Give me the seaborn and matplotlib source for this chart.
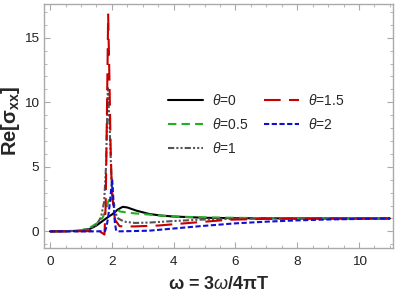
import numpy as np
import matplotlib
matplotlib.use("Agg")
import matplotlib.pyplot as plt
import seaborn as sns

# theta = 0 (black solid)
x0 = [0, 0.5, 1.0, 1.3, 1.5, 1.7, 1.9, 2.0, 2.1, 2.2, 2.35, 2.5, 2.8, 3.2, 3.6, 4, 5, 6, 8, 11]
y0 = [0, 0.01, 0.05, 0.2, 0.45, 0.8, 1.15, 1.3, 1.5, 1.7, 1.9, 1.85, 1.6, 1.35, 1.22, 1.15, 1.05, 1.02, 1.0, 1.0]

# theta = 0.5 (green dashed)
x05 = [0, 0.5, 1.0, 1.3, 1.5, 1.6, 1.7, 1.8, 1.88, 1.95, 2.02, 2.1, 2.25, 2.5, 2.8, 3.2, 4, 5, 7, 11]
y05 = [0, 0.01, 0.08, 0.3, 0.6, 0.8, 1.05, 1.6, 2.3, 2.7, 2.4, 1.9, 1.55, 1.45, 1.38, 1.3, 1.15, 1.08, 1.02, 1.0]

# theta = 1 (grey dash-dot-dot)
x1 = [0, 0.5, 1.0, 1.3, 1.5, 1.65, 1.75, 1.81, 1.87, 1.93, 1.98, 2.03, 2.1, 2.2, 2.4, 2.75, 3.2, 4, 5, 6, 8, 11]
y1 = [0, 0.01, 0.05, 0.2, 0.5, 1.1, 2.3, 5.0, 11.1, 8.0, 4.5, 2.5, 1.5, 1.0, 0.75, 0.65, 0.68, 0.8, 0.92, 0.97, 1.0, 1.0]

# theta = 1.5 (red long dash)
x15 = [0, 0.5, 1.0, 1.4, 1.6, 1.7, 1.76, 1.8, 1.84, 1.88, 1.92, 1.96, 2.0, 2.1, 2.25, 2.7, 3.5, 4.5, 5.8, 7, 9, 11]
y15 = [0, 0, 0.01, 0.02, 0.0, -0.15, -0.25, 2.0, 9.0, 16.8, 12.0, 6.5, 3.0, 0.9, 0.4, 0.38, 0.45, 0.65, 0.9, 0.97, 1.0, 1.0]

# theta = 2 (blue short dash)
x2 = [0, 0.5, 1.0, 1.5, 1.78, 1.83, 1.88, 1.94, 2.01, 2.06, 2.1, 2.14, 2.25, 3.2, 4, 4.85, 6, 7, 8, 9, 11]
y2 = [0, 0, 0, 0, 0.02, 0.4, 1.1, 2.3, 4.05, 2.0, 0.6, 0.05, 0.0, 0.05, 0.22, 0.4, 0.62, 0.75, 0.85, 0.92, 1.0]

series = [
    (x0, y0, "$\\theta$=0", "black", "-"),
    (x05, y05, "$\\theta$=0.5", "#22b022", (0, (4, 2.5))),
    (x1, y1, "$\\theta$=1", "#555555", (0, (3, 1, 1, 1, 1, 1))),
    (x15, y15, "$\\theta$=1.5", "#c80000", (0, (8, 4))),
    (x2, y2, "$\\theta$=2", "#1010d0", (0, (2.5, 1.2))),
]

sns.set_style("ticks")
plt.rcParams["font.family"] = ["Liberation Sans", "DejaVu Sans"]
plt.rcParams["mathtext.fontset"] = "custom"
plt.rcParams["mathtext.it"] = "Liberation Sans:italic"
plt.rcParams["mathtext.rm"] = "Liberation Sans"
plt.rcParams["mathtext.bf"] = "Liberation Sans:bold"

fig = plt.figure(figsize=(3.99, 2.94), dpi=100)
ax = fig.add_axes([0.110, 0.156, 0.875, 0.830])

for xs, ys, lab, col, ls in series:
    sns.lineplot(x=xs, y=ys, ax=ax, color=col, linestyle=ls, linewidth=1.5, label=lab, sort=False)

ax.set_xlim(-0.2, 11.1)
ax.set_ylim(-1.3, 17.6)
ax.set_xticks([0, 2, 4, 6, 8, 10])
ax.set_yticks([0, 5, 10, 15])
ax.xaxis.set_minor_locator(matplotlib.ticker.MultipleLocator(0.5))
ax.yaxis.set_minor_locator(matplotlib.ticker.MultipleLocator(1))
ax.tick_params(which="both", direction="in", top=True, right=True, color="#aaaaaa",
               labelsize=9.7, labelcolor="#222222")
ax.tick_params(which="major", length=4, width=0.8)
ax.tick_params(which="minor", length=2, width=0.6)
ax.tick_params(axis="x", pad=6)
for sp in ax.spines.values():
    sp.set_color("#aaaaaa")
    sp.set_linewidth(1.0)

ax.set_xlabel("ω = 3$\\mathit{ω}$/4πT", fontsize=13, fontweight="bold")
ax.set_ylabel("Re[$\\mathbf{σ_{xx}}$]", fontsize=14.5, fontweight="bold")
ax.yaxis.set_label_coords(-0.062, 0.52)
ax.xaxis.set_label_coords(0.5, -0.115)

ax.legend(ncol=2, loc="upper left", bbox_to_anchor=(0.355, 0.635), frameon=False,
          fontsize=10, handlelength=2.5, handletextpad=0.7, columnspacing=1.1,
          labelspacing=0.65, borderpad=0, borderaxespad=0)

fig.savefig("out.png", dpi=100)
